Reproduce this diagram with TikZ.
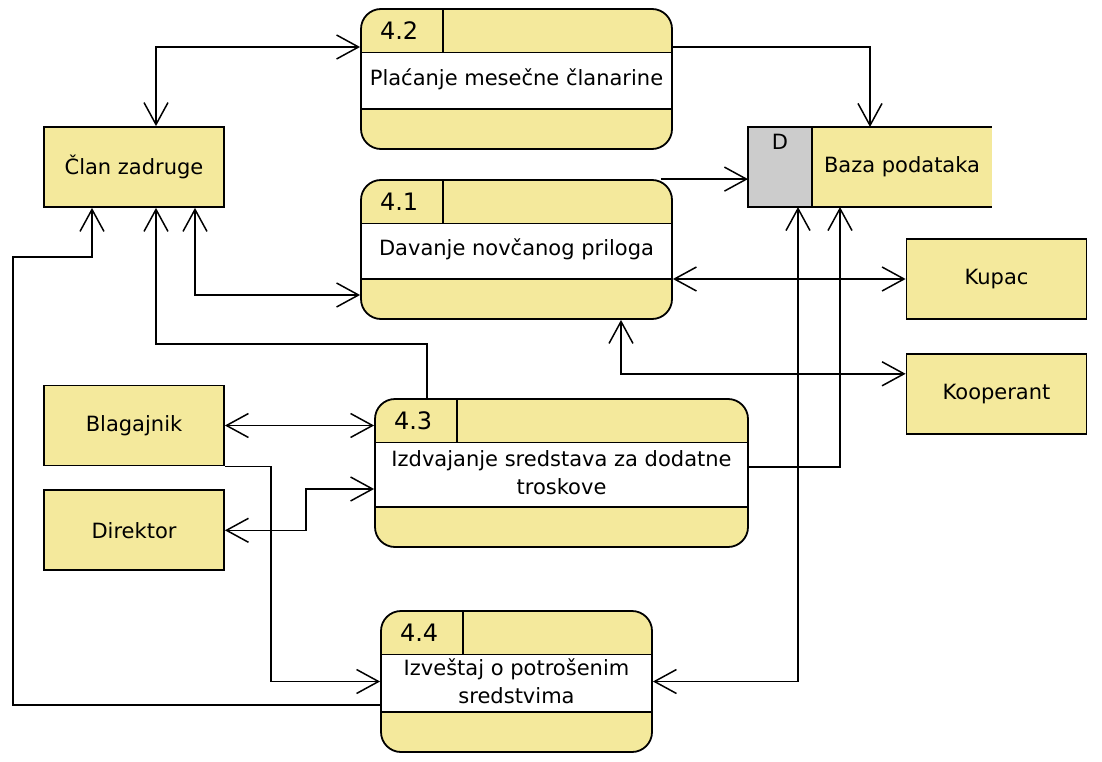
\documentclass[tikz,border=0pt]{standalone}
\usepackage{fontspec}
\setmainfont{DejaVu Sans}
\usepackage{tikz}
\usetikzlibrary{positioning, arrows.meta, calc}

\definecolor{dfdyellow}{HTML}{F4E99C}
\definecolor{storegray}{HTML}{CCCCCC}

\begin{document}
\begin{tikzpicture}[>={Straight Barb[length=22pt,width=24pt]}, x=1pt, y=-1pt]

        % Define block styles
        \tikzstyle{entity} = [rectangle, draw, fill=dfdyellow, line width=1.8pt, minimum width=180pt, minimum height=80pt, font=\fontsize{21}{28}\selectfont]
        \tikzstyle{process} = [rectangle, draw, fill=dfdyellow, rounded corners=20pt, line width=1.8pt, align=center, font=\fontsize{21}{28}\selectfont,
            path picture={
              \fill[white, sharp corners] ([yshift=-43.5pt]path picture bounding box.north west) rectangle ([yshift=40pt]path picture bounding box.south east);
              \draw[line width=1.8pt] ([yshift=-43.5pt]path picture bounding box.north west) -- ([yshift=-43.5pt]path picture bounding box.north east)
                ([yshift=40pt]path picture bounding box.south west) -- ([yshift=40pt]path picture bounding box.south east)
                ([xshift=82pt]path picture bounding box.north west) -- ([xshift=82pt,yshift=-43.5pt]path picture bounding box.north west);
            }]
        \tikzstyle{procid} = [font=\fontsize{24}{28}\selectfont]
        \tikzstyle{store} = [rectangle, fill=dfdyellow, line width=1.8pt, outer sep=0pt, minimum width=180pt, minimum height=80pt, font=\fontsize{21}{28}\selectfont]
        \tikzstyle{storeid} = [rectangle, draw, fill=storegray, line width=1.8pt, outer sep=0pt, minimum width=64pt, minimum height=80pt]
        \tikzstyle{border} = [line width=1.8pt]
        \tikzstyle{arrow} = [line width=1.5pt, ->]
        \tikzstyle{biarrow} = [line width=1.5pt, <->]

        \useasboundingbox (0,0) rectangle (1102,762);

        % Components
        \node (clan) [entity] at (134,167) {Član zadruge};
        \node (blag) [entity] at (134,425.5) {Blagajnik};
        \node (dir) [entity, below=23pt of blag] {Direktor};
        \node (kupac) [entity] at (996.5,279) {Kupac};
        \node (koop) [entity, below=33pt of kupac] {Kooperant};

        \node (p42) [process, minimum width=311pt, minimum height=140pt] at (516.5,79) {Plaćanje mesečne članarine};
        \node (p41) [process, minimum width=311pt, minimum height=139pt] at (516.5,249.5) {Davanje novčanog priloga};
        \node (p43) [process, minimum width=373pt, minimum height=148pt] at (561.5,473) {Izdvajanje sredstava za dodatne\\troskove};
        \node (p44) [process, minimum width=271pt, minimum height=141pt] at (516.5,681.5) {Izveštaj o potrošenim\\sredstvima};
        \node (id42) [procid] at ([xshift=39pt,yshift=-22.5pt]p42.north west) {4.2};
        \node (id41) [procid] at ([xshift=39pt,yshift=-22.5pt]p41.north west) {4.1};
        \node (id43) [procid] at ([xshift=39pt,yshift=-22.5pt]p43.north west) {4.3};
        \node (id44) [procid] at ([xshift=39pt,yshift=-22.5pt]p44.north west) {4.4};

        \node (baza) [store] at (902,167) {Baza podataka};
        \node (bazaid) [storeid, left=0pt of baza] {};
        \node (bazad) [below=5pt of bazaid.north, inner sep=2pt, font=\fontsize{21}{28}\selectfont] {D};
        \draw [border] (baza.north west) -- (baza.north east) (baza.south west) -- (baza.south east);

        \coordinate (loopbend) at (13,257);

        % Arrows
        \draw [biarrow] ([xshift=22pt]clan.north) |- ([yshift=32pt]p42.west);
        \draw [arrow] ([yshift=32pt]p42.east) -| ([xshift=-32pt]baza.north);
        \draw [arrow] ([xshift=-12pt]p41.north east) -- (p41.north -| bazaid.west);
        \draw [biarrow] ([xshift=61pt]clan.south) |- ([yshift=-45.5pt]p41.west);
        \draw [biarrow] (p41.east |- kupac.west) -- (kupac.west);
        \draw [biarrow] ([xshift=104.5pt]p41.south) |- ([yshift=20pt]koop.west);
        \draw [biarrow] ([xshift=18pt]bazaid.south) |- (p44.east);
        \draw [arrow] ([yshift=6pt]p43.east) -| ([xshift=-62pt]baza.south);
        \draw [arrow] ([xshift=-134.5pt]p43.north) -- ++(0,-54) -| ([xshift=22pt]clan.south);
        \draw [arrow] ([yshift=-23.5pt]p44.west) -| (loopbend) -| ([xshift=-42pt]clan.south);
        \draw [biarrow] (blag.east) -- (blag.east -| p43.west);
        \draw [biarrow] (dir.east) -- ++(81,0) |- ([yshift=-16pt]p43.west);
        \draw [arrow] (blag.south east) -- ++(46,0) |- (p44.west);

      \end{tikzpicture}
\end{document}
